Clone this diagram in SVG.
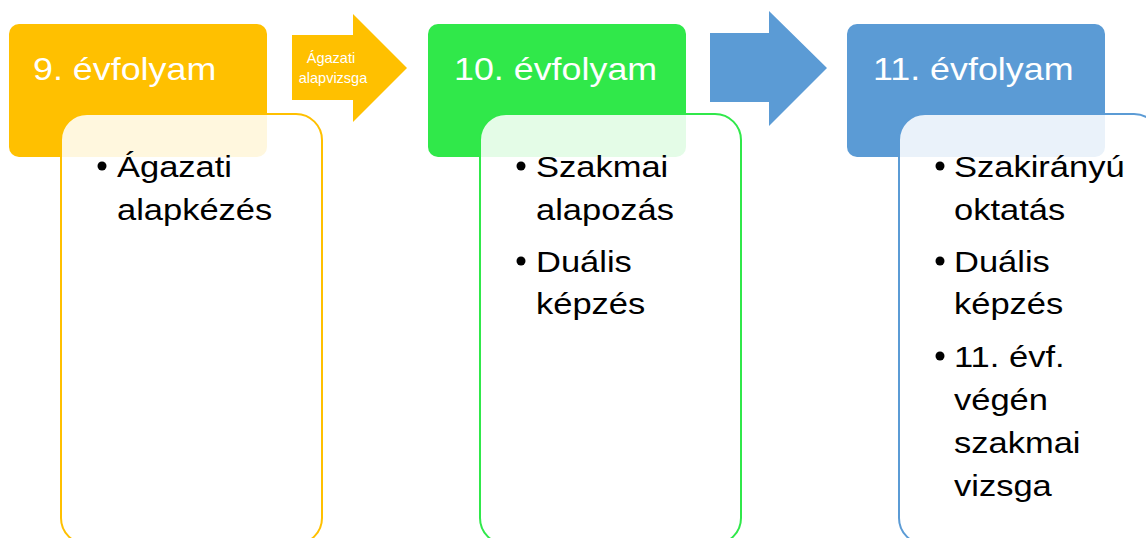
<svg xmlns="http://www.w3.org/2000/svg" width="1146" height="538" viewBox="0 0 1146 538">
  <style>
    .hdr-text { font-family: "Liberation Sans", Arial, sans-serif; font-size: 32px; fill: #FFFFFF; }
    .body-text { font-family: "Liberation Sans", Arial, sans-serif; font-size: 30px; fill: #000000; }
    .arrow-text { font-family: "Liberation Sans", Arial, sans-serif; font-size: 14.5px; fill: #FFFFFF; text-anchor: middle; }
    .card { fill: #FFFFFF; fill-opacity: 0.87; stroke-width: 2; }
    .bullet { fill: #000000; }
    .yellow { fill: #FFC000; }
    .green { fill: #30E84A; }
    .blue { fill: #5B9BD5; }
  </style>

  <!-- connectors between the year columns -->
  <g id="connectors">
    <path class="yellow" d="M292,35 H353 V14 L407,68 L353,122 V100 H292 Z"/>
    <text class="arrow-text">
      <tspan x="333" y="63">Ágazati</tspan>
      <tspan x="333" y="83">alapvizsga</tspan>
    </text>
    <path class="blue" d="M710,33 H769 V11 L827,68 L769,126 V102 H710 Z"/>
  </g>

  <!-- grade 9 -->
  <g id="node-grade9">
    <rect class="yellow" x="9" y="24" width="258" height="133" rx="10"/>
    <text class="hdr-text" transform="translate(33 0) scale(1.12 1)" x="0" y="80">9. évfolyam</text>
    <rect class="card" stroke="#FFC000" x="61" y="114" width="261" height="430" rx="26"/>
    <circle class="bullet" cx="102" cy="166" r="4.5"/>
    <text class="body-text" transform="translate(117 0) scale(1.15 1)">
      <tspan x="0" y="177">Ágazati</tspan>
      <tspan x="0" y="220">alapkézés</tspan>
    </text>
  </g>

  <!-- grade 10 -->
  <g id="node-grade10">
    <rect class="green" x="428" y="24" width="258" height="133" rx="10"/>
    <text class="hdr-text" transform="translate(454 0) scale(1.12 1)" x="0" y="80">10. évfolyam</text>
    <rect class="card" stroke="#30E84A" x="480" y="114" width="261" height="430" rx="26"/>
    <circle class="bullet" cx="521" cy="166" r="4.5"/>
    <circle class="bullet" cx="521" cy="261" r="4.5"/>
    <text class="body-text" transform="translate(536 0) scale(1.15 1)">
      <tspan x="0" y="177">Szakmai</tspan>
      <tspan x="0" y="220">alapozás</tspan>
      <tspan x="0" y="272">Duális</tspan>
      <tspan x="0" y="314">képzés</tspan>
    </text>
  </g>

  <!-- grade 11 -->
  <g id="node-grade11">
    <rect class="blue" x="847" y="24" width="258" height="133" rx="10"/>
    <text class="hdr-text" transform="translate(873 0) scale(1.12 1)" x="0" y="80">11. évfolyam</text>
    <rect class="card" stroke="#5B9BD5" x="899" y="114" width="261" height="430" rx="26"/>
    <circle class="bullet" cx="940" cy="166" r="4.5"/>
    <circle class="bullet" cx="940" cy="261" r="4.5"/>
    <circle class="bullet" cx="940" cy="356" r="4.5"/>
    <text class="body-text" transform="translate(954 0) scale(1.15 1)">
      <tspan x="0" y="177">Szakirányú</tspan>
      <tspan x="0" y="220">oktatás</tspan>
      <tspan x="0" y="272">Duális</tspan>
      <tspan x="0" y="314">képzés</tspan>
      <tspan x="0" y="367">11. évf.</tspan>
      <tspan x="0" y="410">végén</tspan>
      <tspan x="0" y="453">szakmai</tspan>
      <tspan x="0" y="496">vizsga</tspan>
    </text>
  </g>
</svg>
